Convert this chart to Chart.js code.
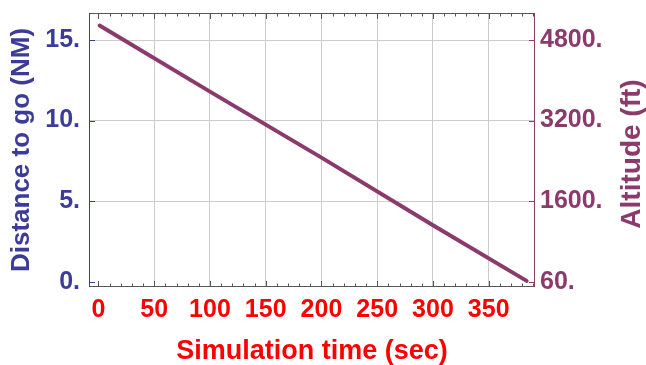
<!DOCTYPE html>
<html>
<head>
<meta charset="utf-8">
<script src="https://cdn.jsdelivr.net/npm/chart.js@4.4.1/dist/chart.umd.min.js"></script>
<style>
  html, body { margin: 0; padding: 0; background: #fff; }
  #wrap { width: 646px; height: 365px; }
</style>
</head>
<body>
<div id="wrap"><canvas id="c" width="646" height="365"></canvas></div>
<script>
// values
const simTime = [1, 100, 200, 300, 384];          // sec
const distToGo = [15.9, 11.8, 7.7, 3.5, 0.05];   // NM
const xTicks = [0, 50, 100, 150, 200, 250, 300, 350];
const yTicks = [0, 5, 10, 15];
const yTickLabels = ['0.', '5.', '10.', '15.'];
const altTickLabels = ['60.', '1600.', '3200.', '4800.'];

const FONT = "'Liberation Sans', Arial, sans-serif";
const BLUE = '#3c3c98';
const PURPLE = '#8b3a6c';
const RED = '#ff0000';
const GRID = '#cccccc';
const FRAME = '#555555';

const X_MIN = -8.5, X_MAX = 391.5;
const Y_MIN = -0.33, Y_MAX = 16.68;

// frame with inward ticks + the right-hand title (reads bottom to top like the left one)
const framePlugin = {
    id: 'frame',
    afterDraw(chart) {
        const { ctx, chartArea: a } = chart;
        const xs = chart.scales.x;
        const ys = chart.scales.y;
        ctx.save();
        ctx.lineWidth = 1;

        // top + bottom minor/major ticks every 10 s
        ctx.strokeStyle = FRAME;
        ctx.beginPath();
        for (let v = 0; v <= 390; v += 10) {
            const px = Math.round(xs.getPixelForValue(v)) + 0.5;
            const len = v % 50 === 0 ? 6 : 3.5;
            ctx.moveTo(px, a.top); ctx.lineTo(px, a.top + len);
            ctx.moveTo(px, a.bottom); ctx.lineTo(px, a.bottom - len);
        }
        ctx.stroke();

        // top and bottom edges
        ctx.beginPath();
        ctx.moveTo(a.left, a.top + 0.5); ctx.lineTo(a.right, a.top + 0.5);
        ctx.moveTo(a.left, a.bottom - 0.5); ctx.lineTo(a.right, a.bottom - 0.5);
        ctx.stroke();

        // left edge + ticks
        ctx.strokeStyle = BLUE;
        ctx.beginPath();
        ctx.moveTo(a.left + 0.5, a.top); ctx.lineTo(a.left + 0.5, a.bottom);
        yTicks.forEach(v => {
            const py = Math.round(ys.getPixelForValue(v)) + 0.5;
            ctx.moveTo(a.left, py); ctx.lineTo(a.left + 6, py);
        });
        ctx.stroke();

        // right edge + ticks
        ctx.strokeStyle = PURPLE;
        ctx.beginPath();
        ctx.moveTo(a.right - 0.5, a.top); ctx.lineTo(a.right - 0.5, a.bottom);
        yTicks.forEach(v => {
            const py = Math.round(ys.getPixelForValue(v)) + 0.5;
            ctx.moveTo(a.right, py); ctx.lineTo(a.right - 6, py);
        });
        ctx.stroke();

        // right title
        ctx.translate(632, 154);
        ctx.rotate(-Math.PI / 2);
        ctx.fillStyle = PURPLE;
        ctx.font = "bold 28px " + FONT;
        ctx.textAlign = 'center';
        ctx.textBaseline = 'middle';
        ctx.fillText('Altitude (ft)', 0, 0);
        ctx.restore();
    }
};

new Chart(document.getElementById('c'), {
    type: 'line',
    data: {
        datasets: [{
            data: simTime.map((t, i) => ({ x: t, y: distToGo[i] })),
            borderColor: PURPLE,
            borderWidth: 4,
            borderCapStyle: 'round',
            pointRadius: 0,
            tension: 0,
            yAxisID: 'y'
        }]
    },
    options: {
        responsive: false,
        animation: false,
        layout: { autoPadding: false, padding: { top: 13, left: 0, right: 0, bottom: 0 } },
        plugins: { legend: { display: false }, tooltip: { enabled: false } },
        scales: {
            x: {
                type: 'linear',
                min: X_MIN, max: X_MAX,
                afterBuildTicks: s => { s.ticks = xTicks.map(v => ({ value: v })); },
                afterFit: s => { s.height = 78; s.paddingLeft = 0; s.paddingRight = 0; },
                border: { display: false },
                grid: {
                    drawTicks: false,
                    color: c => (c.tick && c.tick.value === 0) ? 'rgba(0,0,0,0)' : GRID
                },
                ticks: {
                    color: RED, padding: 8, maxRotation: 0, autoSkip: false,
                    font: { family: FONT, size: 25, weight: 'bold' },
                    callback: v => String(v)
                },
                title: {
                    display: true, text: 'Simulation time (sec)', color: RED,
                    font: { family: FONT, size: 27, weight: 'bold', lineHeight: 1 },
                    padding: { top: 0, bottom: 0 }
                }
            },
            y: {
                type: 'linear', position: 'left',
                min: Y_MIN, max: Y_MAX,
                afterBuildTicks: s => { s.ticks = yTicks.map(v => ({ value: v })); },
                afterFit: s => { s.width = 89; s.paddingTop = 0; s.paddingBottom = 0; },
                border: { display: false },
                grid: {
                    drawTicks: false,
                    color: c => (c.tick && c.tick.value === 0) ? 'rgba(0,0,0,0)' : GRID
                },
                ticks: {
                    color: BLUE, padding: 9, autoSkip: false,
                    font: { family: FONT, size: 25, weight: 'bold' },
                    callback: (v) => yTickLabels[yTicks.indexOf(v)]
                },
                title: {
                    display: true, text: 'Distance to go (NM)', color: BLUE,
                    font: { family: FONT, size: 26, weight: 'bold', lineHeight: 1 },
                    padding: { top: 9, bottom: 0 }
                }
            },
            alt: {
                type: 'linear', position: 'right',
                min: Y_MIN, max: Y_MAX,
                afterBuildTicks: s => { s.ticks = yTicks.map(v => ({ value: v })); },
                afterFit: s => { s.width = 111; s.paddingTop = 0; s.paddingBottom = 0; },
                border: { display: false },
                grid: { drawOnChartArea: false, drawTicks: false },
                ticks: {
                    color: PURPLE, padding: 5, autoSkip: false,
                    font: { family: FONT, size: 25, weight: 'bold' },
                    callback: (v) => altTickLabels[yTicks.indexOf(v)]
                },
                title: { display: false }
            }
        }
    },
    plugins: [framePlugin]
});
</script>
</body>
</html>
